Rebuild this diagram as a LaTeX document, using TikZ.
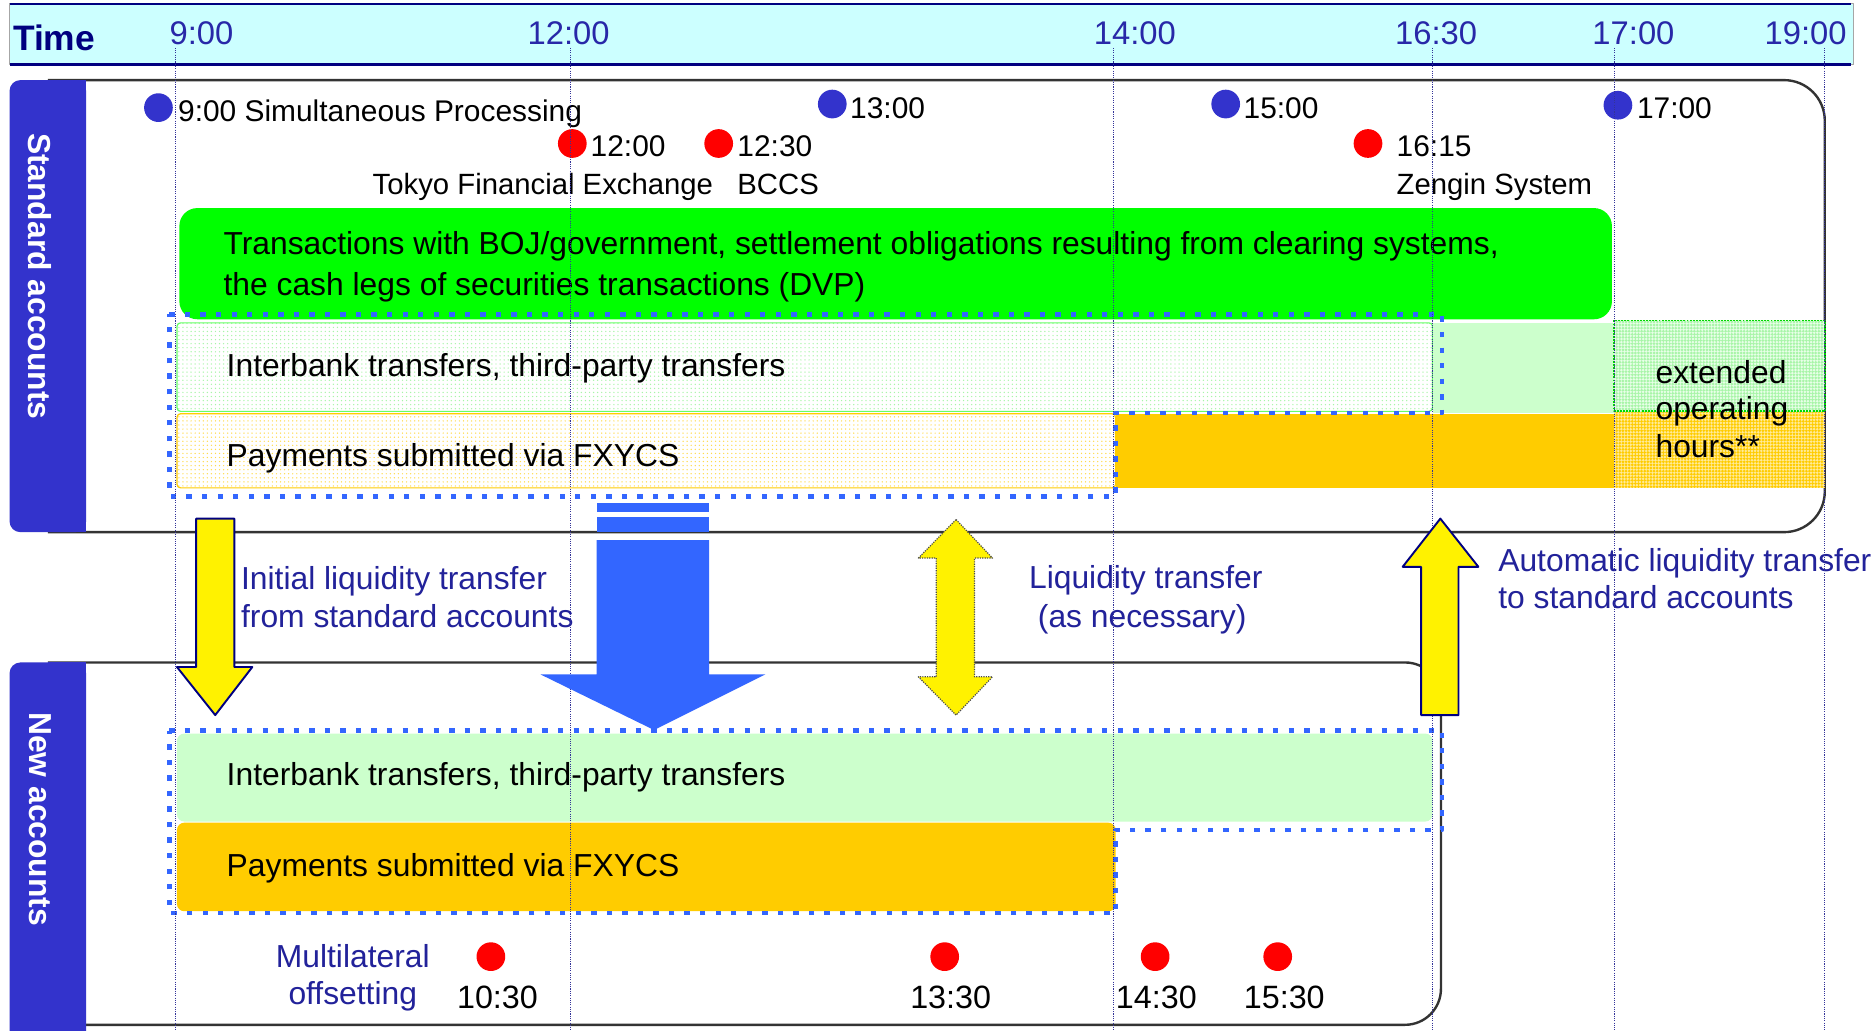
\documentclass[tikz,border=0pt]{standalone}
\usepackage{fontspec}
\setmainfont{Liberation Sans}
\usetikzlibrary{patterns.meta}

\definecolor{hdrfill}{HTML}{CCFFFF}
\definecolor{hdrline}{HTML}{000080}
\definecolor{tabblue}{HTML}{3333CC}
\definecolor{timeblue}{HTML}{2828A8}
\definecolor{labnavy}{HTML}{22229A}
\definecolor{vivgreen}{HTML}{00FF00}
\definecolor{palegreen}{HTML}{CCFFCC}
\definecolor{dotgreen}{HTML}{A8F5A8}
\definecolor{amber}{HTML}{FFCC00}
\definecolor{royal}{HTML}{3366FF}
\definecolor{evred}{HTML}{FF0000}
\definecolor{guide}{HTML}{333399}

\newcommand\fBody{\fontsize{26.6pt}{32pt}\selectfont}
\newcommand\fEvt{\fontsize{25pt}{30pt}\selectfont}
\newcommand\fSmall{\fontsize{24.5pt}{30pt}\selectfont}
\newcommand\fTime{\fontsize{27.4pt}{32pt}\selectfont}
\newcommand\fHead{\fontsize{29.6pt}{36pt}\selectfont\bfseries}
\newcommand\fTab{\fontsize{26.6pt}{32pt}\selectfont\bfseries}
\newcommand\fClock{\fontsize{27pt}{32pt}\selectfont}

\begin{document}
\begin{tikzpicture}[x=1pt,y=-1pt,line join=round,
  every node/.style={inner sep=0pt,outer sep=0pt},
  body/.style={font=\fBody,text=black,anchor=base west},
  evt/.style={font=\fEvt,text=black,anchor=base west},
  lab/.style={font=\fBody,text=labnavy,anchor=base west},
  tlabel/.style={font=\fTime,text=timeblue,anchor=base},
  clock/.style={font=\fClock,text=black,anchor=base},
  tabtext/.style={font=\fTab,text=white,rotate=-90},
  evdot/.style={circle,minimum size=24pt,draw=none},
  guideline/.style={guide,line width=0.9pt,densely dotted},
  boxline/.style={draw=black!80,line width=2pt},
  bluedots/.style={draw=royal,line width=3.8pt,dash pattern=on 4.5pt off 8.5pt},
  yarrow/.style={fill=yellow,draw=hdrline,line width=1.6pt},
  finedots/.style={pattern={Dots[distance=3.4pt,radius=0.6pt]}},
  checker/.style={pattern={Dots[distance=2.6pt,radius=1.25pt]}}]
\useasboundingbox (0,0) rectangle (1568,862);
\clip (0,0) rectangle (1568,862);
\fill[white] (0,0) rectangle (1568,862);

% ---- time header ----
\fill[hdrfill] (8,3) rectangle (1550,54);
\draw[black!35,line width=0.8pt] (8,3) rectangle (1550,54);
\draw[hdrline,line width=1.6pt] (8,3) -- (1548,3);
\draw[hdrline,line width=3pt] (8,54) -- (1548,54);
\node[font=\fHead,text=hdrline,anchor=base west] (time) at (11,42) {Time};
\foreach \x/\t [count=\i] in {168.5/9:00,475.5/12:00,949/14:00,1201/16:30,1366/17:00,1510/19:00}
  \node[tlabel] (t\i) at (\x,37.6) {\t};

% ---- standard accounts frame ----
\draw[boxline,rounded corners=34pt] (40,67) -- (1526,67) -- (1526,445) -- (40,445);
\fill[tabblue,rounded corners=9pt] (8,67) rectangle (72,445);
\fill[tabblue] (40,67) rectangle (72,445);
\node[tabtext] (stdtab) at (33.6,231) {Standard accounts};

% ---- new accounts frame ----
\draw[boxline,rounded corners=30pt] (40,554) -- (1205,554) -- (1205,857) -- (40,857);
\fill[tabblue,rounded corners=9pt] (8,554) rectangle (72,900);
\fill[tabblue] (40,554) rectangle (72,900);
\node[tabtext] (newtab) at (33.6,685) {New accounts};

% ---- standard accounts: settlement bands ----
\fill[vivgreen,rounded corners=15pt] (150,174) rectangle (1348,267);
\fill[finedots,pattern color=dotgreen] (148,270) rectangle (1198,344);
\draw[green!60,line width=1pt,rounded corners=3pt] (148,270) rectangle (1198,344);
\fill[palegreen] (1198,270) rectangle (1350,345);
\fill[finedots,pattern color=amber!70] (148,346) rectangle (933,408);
\draw[amber,line width=1pt,rounded corners=3pt] (148,346) rectangle (933,408);
\fill[amber] (933,346) rectangle (1350,408);
% extended operating hours
\fill[palegreen!45] (1350,268) rectangle (1526,345);
\fill[checker,pattern color=dotgreen] (1350,268) rectangle (1526,345);
\fill[amber!40] (1350,345) rectangle (1526,408);
\fill[checker,pattern color=amber] (1350,345) rectangle (1526,408);
\draw[green!85!black,densely dotted,line width=1.6pt] (1350,268) rectangle (1526,344);
\draw[bluedots] (141.6,263) -- (1206,263) -- (1206,345.5) -- (933,345.5) -- (933,415) -- (141.6,415) -- cycle;

% ---- new accounts: settlement bands ----
\fill[palegreen,rounded corners=6pt] (148,613.5) rectangle (1198,687);
\fill[amber,rounded corners=6pt] (148,688) rectangle (933,762);
\draw[bluedots] (141.6,611) -- (1206,611) -- (1206,694) -- (933,694) -- (933,763.5) -- (141.6,763.5) -- cycle;

% ---- band texts ----
\node[body] (g1) at (187,213) {Transactions with BOJ/government, settlement obligations resulting from clearing systems,};
\node[body] (g2) at (187,246.7) {the cash legs of securities transactions (DVP)};
\node[body] (ib1) at (189.6,315) {Interbank transfers, third-party transfers};
\node[body] (fx1) at (189.6,390) {Payments submitted via FXYCS};
\node[body] (ext1) at (1384.5,320.6) {extended};
\node[body] (ext2) at (1384.5,351) {operating};
\node[body] (ext3) at (1384.5,383) {hours**};
\node[body] (ib2) at (189.6,657) {Interbank transfers, third-party transfers};
\node[body] (fx2) at (189.6,732.6) {Payments submitted via FXYCS};

% ---- processing times, standard accounts ----
\node[evdot,fill=tabblue] (d1) at (132.5,90) {};
\node[evdot,fill=evred] (d2) at (478.6,120) {};
\node[evdot,fill=evred] (d3) at (601,120) {};
\node[evdot,fill=tabblue] (d4) at (696,87) {};
\node[evdot,fill=tabblue] (d5) at (1025,87) {};
\node[evdot,fill=evred] (d6) at (1144,120) {};
\node[evdot,fill=tabblue] (d7) at (1353,88) {};
\node[evt] (l1) at (149,101.7) {9:00 Simultaneous Processing};
\node[evt] (l2) at (494,131) {12:00};
\node[evt] (l3) at (616.7,131) {12:30};
\node[evt] (l4) at (711,99) {13:00};
\node[evt] (l5) at (1040,99) {15:00};
\node[evt] (l6) at (1168,131) {16:15};
\node[evt] (l7) at (1369,99) {17:00};
\node[font=\fSmall,anchor=base west] (s1) at (311.7,162.5) {Tokyo Financial Exchange};
\node[font=\fSmall,anchor=base west] (s2) at (616.7,162.5) {BCCS};
\node[font=\fSmall,anchor=base west] (s3) at (1168,162.5) {Zengin System};

% ---- processing times, new accounts ----
\node[lab,anchor=base] (m1) at (295,809) {Multilateral};
\node[lab,anchor=base] (m2) at (295,840) {offsetting};
\foreach \x/\t [count=\i] in {410.5/10:30,790/13:30,966/14:30,1068.5/15:30}
  \node[evdot,fill=evred] (n\i) at (\x,800) {};
\node[clock] (c1) at (416,843) {10:30};
\node[clock] (c2) at (795,843) {13:30};
\node[clock] (c3) at (967,843) {14:30};
\node[clock] (c4) at (1074,843) {15:30};

% ---- transfer captions ----
\node[lab] (a1) at (201.6,493) {Initial liquidity transfer};
\node[lab] (a2) at (201.6,524.4) {from standard accounts};
\node[lab] (b1) at (860.6,492) {Liquidity transfer};
\node[lab] (b2) at (868,524.4) {(as necessary)};
\node[lab] (r1) at (1253,478) {Automatic liquidity transfer};
\node[lab] (r2) at (1253,509) {to standard accounts};

% ---- time guides ----
\foreach \x in {147,477,931.4,1197.7,1350,1525.7}
  \draw[guideline] (\x,40) -- (\x,862);

% ---- liquidity transfer arrows ----
\filldraw[yarrow] (164,433.7) -- (196,433.7) -- (196,557.8) -- (211,557.8) -- (180,598) -- (148,557.8) -- (164,557.8) -- cycle;
\fill[royal] (499,421) rectangle (593,428);
\fill[royal] (499,432.3) rectangle (593,445);
\fill[royal] (499,451.6) -- (593,451.6) -- (593,564) -- (640,564) -- (547,610.5) -- (452,564) -- (499,564) -- cycle;
\filldraw[fill=yellow,draw=black!70,densely dotted,line width=1pt] (799.5,434.5) -- (830,466.7) -- (815,466.7) -- (815,566) -- (830,566) -- (799.5,598) -- (768,566) -- (783,566) -- (783,466.7) -- (768,466.7) -- cycle;
\filldraw[yarrow] (1204.5,433.7) -- (1236.3,474) -- (1219.7,474) -- (1219.7,598) -- (1188.4,598) -- (1188.4,474) -- (1173,474) -- cycle;
\end{tikzpicture}
\end{document}
